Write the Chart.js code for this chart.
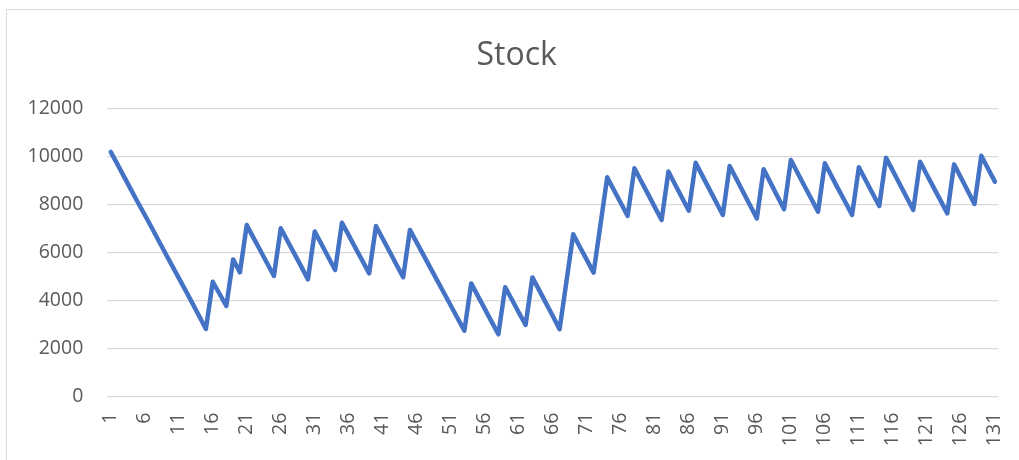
<!DOCTYPE html>
<html>
<head>
<meta charset="utf-8">
<script src="https://cdn.jsdelivr.net/npm/chart.js@4"></script>
<style>
  html, body { margin: 0; padding: 0; background: #ffffff; overflow: hidden; }
  #wrap { position: relative; width: 1019px; height: 460px; }
  #frame { position: absolute; left: 6px; top: 9px; width: 1100px; height: 600px; border: 1px solid #d9d9d9; box-sizing: border-box; }
  #c { position: absolute; left: 0; top: 0; }
</style>
</head>
<body>
<div id="wrap">
  <div id="frame"></div>
  <canvas id="c" width="1019" height="460"></canvas>
</div>
<script>
const chartTitle = "Stock";

// Categories: day numbers 1..131
const categories = [];
for (let d = 1; d <= 131; d++) categories.push(String(d));

// Stock level per day
const stock = [
  10200, 9680, 9150, 8620, 8090, 7580, 7060, 6530, 6000, 5470,
  4950, 4430, 3900, 3360, 2820, 4790, 4290, 3780, 5720, 5180,
  7150, 6620, 6090, 5560, 5030, 7020, 6490, 5960, 5430, 4890,
  6880, 6350, 5810, 5280, 7250, 6720, 6190, 5670, 5140, 7110,
  6580, 6050, 5510, 4980, 6950, 6420, 5900, 5370, 4850, 4320,
  3800, 3270, 2750, 4720, 4190, 3660, 3130, 2600, 4560, 4040,
  3510, 2990, 4970, 4440, 3900, 3360, 2810, 4790, 6770, 6230,
  5700, 5170, 7150, 9140, 8600, 8070, 7530, 9520, 8980, 8440,
  7900, 7360, 9380, 8830, 8290, 7750, 9750, 9200, 8660, 8110,
  7570, 9610, 9070, 8520, 7980, 7430, 9480, 8920, 8360, 7810,
  9860, 9320, 8780, 8250, 7710, 9730, 9180, 8640, 8110, 7570,
  9560, 9020, 8480, 7950, 9960, 9410, 8860, 8320, 7780, 9790,
  9250, 8710, 8180, 7640, 9680, 9130, 8580, 8030, 10040, 9500,
  8960
];

// Tick settings
const yTicks = { min: 0, max: 12000, step: 2000 };
const xLabelEvery = 5;

const textColor = '#595959';
const gridColor = '#d9d9d9';
const fontFamily = "'Open Sans', 'Liberation Sans', sans-serif";

new Chart(document.getElementById('c'), {
  type: 'line',
  data: {
    labels: categories,
    datasets: [{
      label: chartTitle,
      data: stock,
      borderColor: '#4472C4',
      backgroundColor: '#4472C4',
      borderWidth: 4.5,
      pointRadius: 0,
      pointHoverRadius: 0,
      tension: 0,
      borderJoinStyle: 'round',
      borderCapStyle: 'round',
      fill: false
    }]
  },
  options: {
    responsive: false,
    animation: false,
    devicePixelRatio: 1,
    layout: { padding: { left: 14.4, right: 0, top: 0, bottom: 0 } },
    plugins: {
      legend: { display: false },
      tooltip: { enabled: false },
      title: {
        display: true,
        text: chartTitle,
        color: textColor,
        font: { family: fontFamily, size: 32, weight: 'normal', lineHeight: 1.2 },
        padding: { top: 37, bottom: 33.3 }
      }
    },
    scales: {
      x: {
        type: 'category',
        offset: true,
        grid: { display: false, drawTicks: false },
        border: { display: false },
        ticks: {
          autoSkip: false,
          maxRotation: 90,
          minRotation: 90,
          padding: 16,
          color: textColor,
          font: { family: fontFamily, size: 19.5 },
          callback: function (val, idx) {
            return idx % xLabelEvery === 0 ? categories[idx] : '';
          }
        },
        afterFit: function (scale) {
          scale.height = 63.3;
          scale.paddingLeft = 0;
          scale.paddingRight = 20.7;
        }
      },
      y: {
        min: yTicks.min,
        max: yTicks.max,
        grid: { color: gridColor, lineWidth: 1.3, drawTicks: false },
        border: { display: false },
        ticks: {
          stepSize: yTicks.step,
          padding: 24,
          color: textColor,
          font: { family: fontFamily, size: 19.5 },
          callback: function (val) { return String(val); }
        },
        afterFit: function (scale) { scale.width = 92.9; }
      }
    }
  }
});
</script>
</body>
</html>
